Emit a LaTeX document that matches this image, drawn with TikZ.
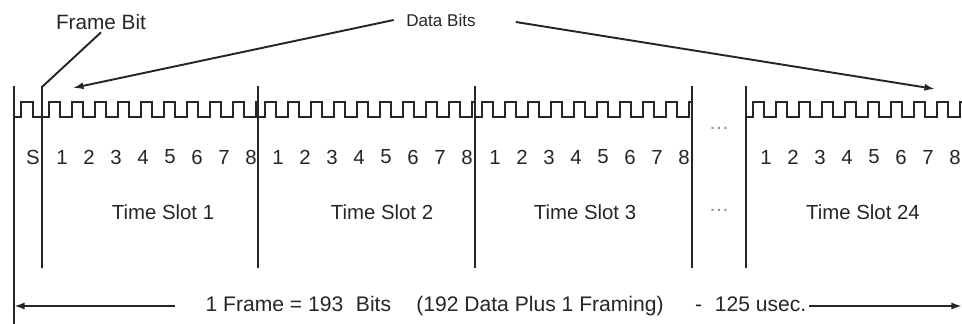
\documentclass[tikz,border=0pt]{standalone}
\usepackage{fontspec}
\setmainfont{Liberation Sans}
\usetikzlibrary{arrows.meta}

\begin{document}
\begin{tikzpicture}[>={Latex[length=6pt,width=4pt]}, x=0.02cm, y=-0.02cm,
  line width=1.1pt, color=black!85,
  lbl/.style={font=\fontsize{11.6}{13}\selectfont, inner sep=1pt},
  wave/.style={line width=0.8pt, line join=miter}]
  \useasboundingbox (0,0) rectangle (962,324);

  % Linee verticali
  \draw (14,86) -- (14,324);
  \foreach \xb in {258,475,692,746}
    \draw (\xb,86) -- (\xb,268);

  % Segnale
  \draw[wave] (14,117) -- (21,117) -- (21,102) -- (33,102) -- (33,117) -- (42,117);
  \foreach \xs in {42,258,475,746}
    \draw[wave] (\xs,117) -- ++(7,0)
      foreach \k in {1,...,9} { -- ++(0,-15) -- ++(11,0) -- ++(0,15) -- ++(12,0) }
      -- ++(0,-15) -- ++(2,0);

  % Bit S e numeri
  \node[lbl] (bs) at (33,157) {S};
  \foreach \s/\xs in {1/42,2/258,3/475,24/746}
    \foreach \i in {1,...,8}
      \node[lbl] (b\s-\i) at ({\xs+20+27*(\i-1)},157) {\i};
  \node[lbl, text=black!45] (dots1) at (719,128) {\dots};

  % Time slot
  \node[lbl] (ts1) at (163,212) {Time Slot 1};
  \node[lbl] (ts2) at (382,212) {Time Slot 2};
  \node[lbl] (ts3) at (585,212) {Time Slot 3};
  \node[lbl, text=black!45] (dots2) at (719,210) {\dots};
  \node[lbl] (ts24) at (863,212) {Time Slot 24};

  % Frame bit
  \node[lbl, font=\fontsize{11.8}{13}\selectfont] (fb) at (101,22) {Frame Bit};
  \coordinate (fbtop) at (42,87);
  \draw (fb.south) -- (fbtop) -- (42,268);

  % Data bits
  \node[lbl, font=\fontsize{9.7}{11}\selectfont] (db) at (441,20) {Data Bits};
  \coordinate (dbl) at (73,88);
  \coordinate (dbr) at (935,89);
  \draw[->] ([xshift=-0.2cm]db.west) -- (dbl);
  \draw[->] ([xshift=0.75cm,yshift=-0.04cm]db.east) -- (dbr);

  % Durata del frame
  \node[lbl, font=\fontsize{12}{14}\selectfont] (fr) at (506,306) {1 Frame = 193\hspace{0.6em}Bits\hspace{1.2em}(192 Data Plus 1 Framing)\hspace{1.5em}-\hspace{0.6em}125 usec.};
  \coordinate (frl) at (14,306);
  \coordinate (frr) at (962,306);
  \draw[->] ([xshift=-0.55cm]fr.west) -- (frl);
  \draw[->] (fr.east) -- (frr);
\end{tikzpicture}
\end{document}
